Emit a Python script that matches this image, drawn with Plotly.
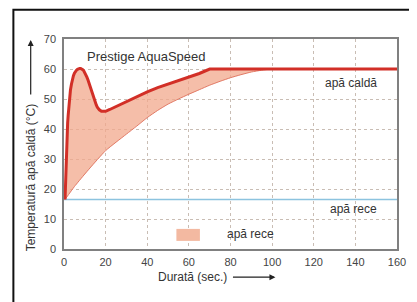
import plotly.graph_objects as go

# Data
thick_x = [0.5, 0.8, 1.0, 1.25, 1.5, 1.75, 2.0, 2.3, 2.7, 3.1, 3.6, 4.0, 4.5, 5.0, 5.5, 6.0, 6.5, 7.0, 7.5, 8, 8.5, 9, 9.5, 10, 10.5, 11, 11.5, 12, 12.5, 13, 13.5, 14, 14.5, 15, 15.5, 16, 16.5, 17, 18, 19, 20, 22, 25, 28, 30, 35, 40, 45, 50, 55, 60, 65, 70, 160]
thick_y = [16.5, 25, 30, 35, 39, 42, 44.5, 47.5, 50.5, 53, 55, 56.5, 57.7, 58.6, 59.2, 59.6, 59.9, 60.1, 60.2, 60.2, 60.1, 59.8, 59.4, 58.8, 58.1, 57.3, 56.4, 55.3, 54.2, 53.0, 51.9, 50.8, 49.8, 48.8, 48.0, 47.3, 46.8, 46.4, 45.9, 45.8, 45.9, 46.5, 47.5, 48.5, 49.1, 50.8, 52.4, 53.8, 55.0, 56.1, 57.2, 58.5, 60, 60]
thin_x = [0.5, 5, 10, 15, 20, 25, 30, 35, 40, 45, 50, 55, 60, 65, 70, 75, 80, 85, 90, 95, 100, 160]
thin_y = [16.5, 20.8, 25, 29, 32.8, 35.6, 38.3, 41.0, 43.8, 46.2, 48.3, 50.0, 51.6, 53.1, 54.6, 55.9, 57.1, 58.1, 59.0, 59.6, 60, 60]
cold_x = [0, 160]
cold_y = [16.5, 16.5]
x_ticks = [0, 20, 40, 60, 80, 100, 120, 140, 160]
y_ticks = [0, 10, 20, 30, 40, 50, 60, 70]

RED = "#d22f27"
FILL = "rgba(242,168,140,0.75)"

fig = go.Figure()
fig.add_trace(go.Scatter(
    x=thick_x + thin_x[::-1], y=thick_y + thin_y[::-1],
    fill="toself", fillcolor=FILL, line=dict(width=0), mode="lines",
    hoverinfo="skip", showlegend=False))
fig.add_trace(go.Scatter(x=cold_x, y=cold_y, mode="lines",
                         line=dict(color="#8cc3df", width=1.5), showlegend=False))
fig.add_trace(go.Scatter(x=thin_x, y=thin_y, mode="lines",
                         line=dict(color="#e27a66", width=1, shape="spline", smoothing=0.5), showlegend=False))
fig.add_trace(go.Scatter(x=thick_x, y=thick_y, mode="lines",
                         line=dict(color=RED, width=3), showlegend=False))

fig.add_shape(type="rect", x0=54, x1=65.3, y0=2.7, y1=6.7, xref="x", yref="y",
              fillcolor="#f3b9a1", line=dict(width=0), layer="above")

txt = dict(family="Liberation Sans, Arial, sans-serif", color="#333333")
C = dict(xanchor="center", yanchor="middle", showarrow=False)
fig.add_annotation(x=39.6, y=64.3, text="Prestige AquaSpeed", font=dict(size=13, **txt), **C)
fig.add_annotation(x=138, y=55.3, text="apă caldă", font=dict(size=12, **txt), **C)
fig.add_annotation(x=138.9, y=13.3, text="apă rece", font=dict(size=12, **txt), **C)
fig.add_annotation(x=89.5, y=5, text="apă rece", font=dict(size=12, **txt), **C)

fig.add_annotation(xref="paper", yref="paper", x=-0.1, y=0.34, text="Temperatură apă caldă (°C)",
                   textangle=-90, font=dict(size=12, **txt), **C)
fig.add_annotation(xref="paper", yref="paper", x=-0.1, y=0.995, text="", showarrow=True,
                   ax=0, ay=56, arrowhead=2, arrowsize=1, arrowwidth=1.2, arrowcolor="#222")
fig.add_annotation(xref="paper", yref="paper", x=0.385, y=-0.134, text="Durată (sec.)",
                   font=dict(size=12, **txt), **C)
fig.add_annotation(xref="paper", yref="paper", x=0.635, y=-0.134, text="", showarrow=True,
                   ax=-44, ay=0, arrowhead=2, arrowsize=1, arrowwidth=1.2, arrowcolor="#222")

fig.add_shape(type="rect", xref="paper", yref="paper", x0=-0.152, x1=1.2, y0=-0.5, y1=1.139,
              line=dict(color="#111", width=2), layer="below")

tickfont = dict(family="Liberation Sans Narrow, Arial Narrow, Liberation Sans, sans-serif", size=11, color="#444")
fig.update_xaxes(range=[0, 160], tickvals=x_ticks, showgrid=True, gridcolor="#c9bdb4", griddash="dot",
                 gridwidth=1, showline=True, linecolor="#808080", linewidth=1.5, mirror=True,
                 zeroline=False, tickfont=tickfont, ticks="", ticklabelstandoff=2,
                 ticklabeloverflow="allow")
fig.update_yaxes(range=[0, 70], tickvals=y_ticks, showgrid=True, gridcolor="#c9bdb4", griddash="dot",
                 gridwidth=1, showline=True, linecolor="#808080", linewidth=1.5, mirror=True,
                 zeroline=False, tickfont=tickfont, ticks="", ticklabelstandoff=4)
# page body adds an 8px offset; sizes compensate
fig.update_layout(width=409, height=294, margin=dict(l=56, r=11, t=31, b=53),
                  paper_bgcolor="white", plot_bgcolor="white", showlegend=False)
fig.write_html("out.html", config={"responsive": False, "displayModeBar": False})
